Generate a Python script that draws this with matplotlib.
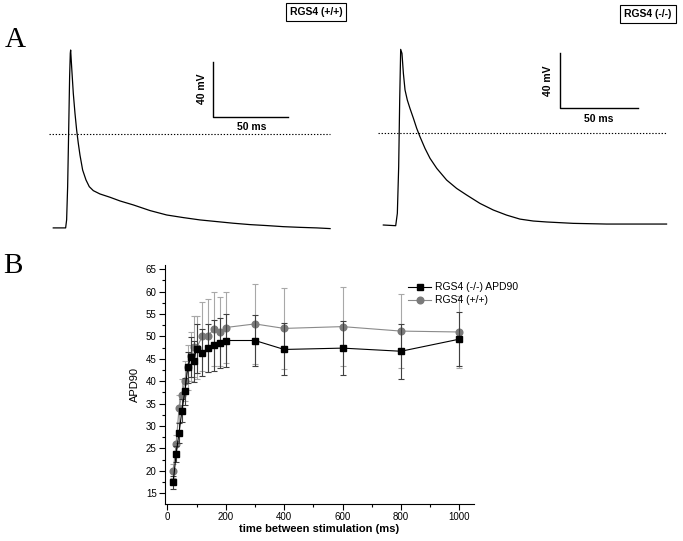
import matplotlib
matplotlib.use("Agg")
import matplotlib.pyplot as plt
from matplotlib.ticker import MultipleLocator

plt.rcParams['font.family'] = ['Liberation Sans', 'DejaVu Sans']

# ---------------- Panel A data ----------------
wt_t = [0, 8.24, 8.9, 9.58, 10.24, 10.9, 11.35, 11.58, 12.24, 13.35, 14.47, 15.58, 16.69,
        17.8, 19.58, 21.8, 24.0, 26.7, 31.1, 37.8, 44.5, 53.4, 64.5, 75.6, 86.7, 97.8,
        108.9, 120.0, 131.1, 142.2, 153.4, 164.5, 175.6, 184.5]
wt_v = [-68.1, -68.1, -62.3, -38.1, 0.7, 41.9, 58.9, 61.3, 49.2, 29.8, 15.3, 3.1, -6.6,
        -15.1, -26.0, -33.2, -38.1, -41.0, -43.4, -45.8, -48.5, -51.4, -55.5, -58.7, -60.6, -62.3,
        -63.5, -64.7, -65.7, -66.4, -67.2, -67.7, -68.1, -68.6]

ko_t = [0, 7.9, 8.95, 9.8, 10.45, 11.08, 11.9, 12.8, 13.85, 15.3, 17.0, 19.2, 21.3, 23.4,
        26.6, 29.8, 34.1, 40.4, 46.8, 53.2, 61.7, 70.2, 78.7, 87.2, 95.7, 104.3, 121.3,
        142.5, 163.8, 180.8]
ko_v = [-67.1, -67.6, -58.6, -24.7, 23.8, 60.6, 57.7, 43.2, 31.1, 23.8, 17.7, 10.5, 3.2, -2.9,
        -11.4, -18.6, -25.9, -34.4, -40.5, -45.3, -51.4, -56.2, -59.9, -62.8, -64.2, -64.9, -65.9,
        -66.4, -66.4, -66.4]

# ---------------- Panel B data ----------------
interval = [20, 30, 40, 50, 60, 70, 80, 90, 100, 120, 140, 160, 180, 200, 300, 400, 600, 800, 1000]
apd_ko = [17.4, 23.7, 28.5, 33.4, 37.8, 43.1, 45.4, 44.5, 47.3, 46.4, 47.4, 48.0, 48.5, 49.1,
          49.1, 47.1, 47.4, 46.7, 49.4]
apd_ko_err = [1.4, 1.8, 2.2, 2.6, 3.0, 3.5, 4.5, 4.6, 5.5, 5.2, 5.3, 5.6, 5.6, 6.0,
              5.7, 5.8, 6.0, 6.1, 6.0]
apd_wt = [20.0, 25.9, 34.0, 37.0, 40.1, 43.1, 45.6, 47.7, 47.5, 50.0, 50.2, 51.7, 51.1, 52.0,
          52.8, 51.8, 52.2, 51.2, 51.0]
apd_wt_err = [1.5, 2.0, 3.0, 3.5, 4.5, 5.0, 5.5, 6.8, 7.0, 7.6, 8.1, 8.3, 7.6, 8.0,
              8.9, 9.0, 8.9, 8.3, 8.0]

W, H = 683, 541
fig = plt.figure(figsize=(W / 100, H / 100), dpi=100)

# ---------------- Panel A ----------------
axL = fig.add_axes([0, 1 - 240 / H, 341.5 / W, 240 / H])
axL.set_xlim(-35.5, 192.1)
axL.set_ylim(-76.9, 97.7)
axL.axis('off')
axL.plot(wt_t, wt_v, color='black', lw=0.9)
axL.plot([-2.7, 184.5], [0, 0], color='black', lw=0.8, ls=(0, (1.2, 1.6)))
axL.plot([106.7, 106.7, 156.7], [52.8, 12.8, 12.8], color='black', lw=1.0)
axL.text(98.9, 32.8, '40 mV', rotation=90, ha='center', va='center', fontsize=7.5, fontweight='bold')
axL.text(132.3, 5.5, '50 ms', ha='center', va='center', fontsize=7.5, fontweight='bold')

axR = fig.add_axes([341.5 / W, 1 - 240 / H, 341.5 / W, 240 / H])
axR.set_xlim(-26.7, 191.3)
axR.set_ylim(-78.0, 96.5)
axR.axis('off')
axR.plot(ko_t, ko_v, color='black', lw=0.9)
axR.plot([-3.4, 181.0], [0, 0], color='black', lw=0.8, ls=(0, (1.2, 1.6)))
axR.plot([112.8, 112.8, 162.8], [57.7, 17.7, 17.7], color='black', lw=1.0)
axR.text(105.3, 37.7, '40 mV', rotation=90, ha='center', va='center', fontsize=7.5, fontweight='bold')
axR.text(137.2, 9.7, '50 ms', ha='center', va='center', fontsize=7.5, fontweight='bold')

box = dict(boxstyle='square,pad=0.4', fc='white', ec='black', lw=0.8)
fig.text(316 / W, 1 - 12 / H, 'RGS4 (+/+)', ha='center', va='center', fontsize=7.5, fontweight='bold', bbox=box)
fig.text(648 / W, 1 - 14 / H, 'RGS4 (-/-)', ha='center', va='center', fontsize=7.5, fontweight='bold', bbox=box)

fig.text(15 / W, 1 - 40 / H, 'A', ha='center', va='center', fontsize=21, family='Liberation Serif')
fig.text(13 / W, 1 - 266 / H, 'B', ha='center', va='center', fontsize=21, family='Liberation Serif')

# ---------------- Panel B ----------------
ax = fig.add_axes([165 / W, 1 - 504 / H, (474 - 165) / W, (504 - 264.8) / H])
c_wt = ax.errorbar(interval, apd_wt, yerr=apd_wt_err, color='#8a8a8a', ecolor='#a8a8a8',
                   marker='o', ms=4.8, mfc='#7a7a7a', mec='#7a7a7a', lw=0.8, elinewidth=0.8,
                   capsize=2.5, capthick=0.8, zorder=2)
c_ko = ax.errorbar(interval, apd_ko, yerr=apd_ko_err, color='black', ecolor='#404040',
                   marker='s', ms=4.4, mfc='black', mec='black', lw=0.8, elinewidth=0.8,
                   capsize=2.5, capthick=0.8, zorder=3)
ax.set_xlim(-8, 1050)
ax.set_ylim(12.6, 66)
ax.spines['top'].set_visible(False)
ax.spines['right'].set_visible(False)
ax.xaxis.set_major_locator(MultipleLocator(200))
ax.xaxis.set_minor_locator(MultipleLocator(100))
ax.yaxis.set_minor_locator(MultipleLocator(2.5))
ax.set_yticks(range(15, 66, 5))
ax.tick_params(axis='both', which='major', direction='out', length=4, width=0.8, labelsize=7, pad=2)
ax.tick_params(axis='both', which='minor', direction='out', length=2, width=0.8)
ax.set_xlabel('time between stimulation (ms)', fontsize=8, fontweight='bold', labelpad=1)
ax.set_ylabel('APD90', fontsize=8, labelpad=4)

ax.legend([c_ko[0], c_wt[0]], ['RGS4 (-/-) APD90', 'RGS4 (+/+)'], loc='upper left',
          bbox_to_anchor=(401 / W, 1 - 275 / H), bbox_transform=fig.transFigure,
          frameon=False, fontsize=7.5, handlelength=2.2, handletextpad=0.4,
          labelspacing=0.3, borderpad=0.2)

fig.savefig('out.png', dpi=100)
